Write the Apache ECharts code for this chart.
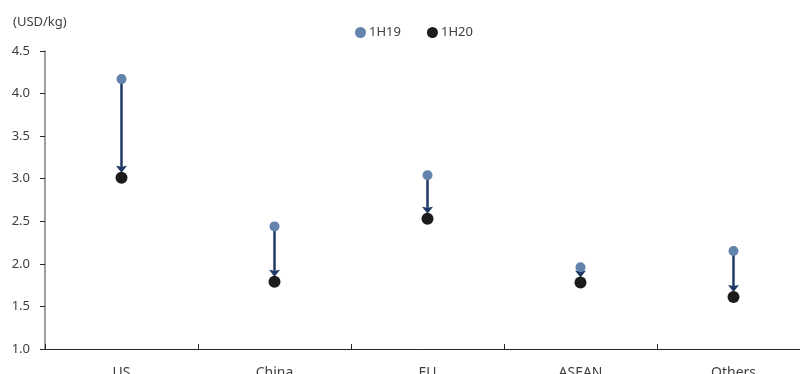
<!DOCTYPE html>
<html><head><meta charset="utf-8">
<script src="https://cdn.jsdelivr.net/npm/echarts@6/dist/echarts.min.js"></script>
<style>html,body{margin:0;padding:0;background:#fff}#c{width:800px;height:374px}</style>
</head><body><div id="c"></div>
<script>
const categories = ['US', 'China', 'EU', 'ASEAN', 'Others'];
const v1H19 = [4.17, 2.44, 3.04, 1.96, 2.15];
const v1H20 = [3.01, 1.79, 2.53, 1.78, 1.61];
const unitLabel = '(USD/kg)';

const chart = echarts.init(document.getElementById('c'), null, {renderer: 'canvas'});
const font = 'Noto Sans';
chart.setOption({
  animation: false,
  textStyle: {fontFamily: font},
  title: {text: unitLabel, left: 8, top: 11, textStyle: {fontSize: 13, fontWeight: 'normal', color: '#404040', fontFamily: font}},
  legend: {
    data: ['1H19', '1H20'], left: 350, top: 21, itemWidth: 11, itemHeight: 11, itemGap: 26,
    icon: 'circle', textStyle: {fontSize: 13, color: '#404040', fontFamily: font, padding: [0,0,0,-2]}
  },
  grid: {left: 45, right: -10, top: 51, bottom: 25, containLabel: false, outerBoundsMode: 'none'},
  xAxis: {
    type: 'category', data: categories, boundaryGap: true,
    axisLine: {lineStyle: {color: '#262626', width: 1}},
    axisTick: {show: true, inside: true, length: 5, lineStyle: {color: '#262626'}},
    axisLabel: {fontSize: 14, color: '#404040', margin: 17, fontFamily: font},
    splitLine: {show: false}
  },
  yAxis: {
    type: 'value', min: 1, max: 4.5, interval: 0.5,
    axisLine: {show: true, lineStyle: {color: '#7f7f7f', width: 1.5}},
    axisTick: {show: true, length: 5, lineStyle: {color: '#262626'}},
    axisLabel: {fontSize: 13, color: '#404040', margin: 15, fontFamily: font, formatter: v => v.toFixed(1)},
    splitLine: {show: false}
  },
  series: [
    {
      type: 'custom', z: 1, silent: true,
      data: categories.map((c, i) => [i, v1H19[i], v1H20[i]]),
      encode: {x: 0, y: [1, 2]},
      renderItem: function (params, api) {
        const i = api.value(0);
        const p1 = api.coord([i, api.value(1)]);
        const p2 = api.coord([i, api.value(2)]);
        const tipY = p2[1] - 5;
        const headH = 7;
        const color = '#1f3864';
        return {
          type: 'group',
          children: [
            {type: 'line', shape: {x1: p1[0], y1: p1[1], x2: p1[0], y2: tipY - headH + 1},
             style: {stroke: color, lineWidth: 2.5}},
            {type: 'polygon', shape: {points: [[p2[0] - 5.5, tipY - headH], [p2[0], tipY - headH + 1], [p2[0] + 5.5, tipY - headH], [p2[0], tipY]]},
             style: {fill: color}}
          ]
        };
      }
    },
    {name: '1H19', type: 'scatter', z: 3, data: v1H19, symbol: 'circle', symbolSize: 10,
     itemStyle: {color: '#6283ab', opacity: 1}},
    {name: '1H20', type: 'scatter', z: 3, data: v1H20, symbol: 'circle', symbolSize: 12,
     itemStyle: {color: '#1c1c1c', opacity: 1}}
  ]
});
</script></body></html>
